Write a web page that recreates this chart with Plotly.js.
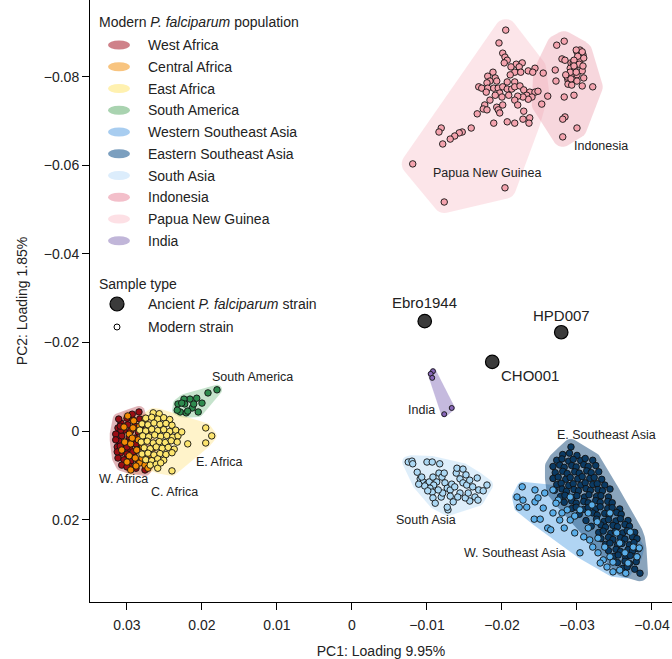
<!DOCTYPE html>
<html>
<head>
<meta charset="utf-8">
<script src="https://cdn.plot.ly/plotly-3.0.1.min.js"></script>
<style>
html,body{margin:0;padding:0;background:#fff;}
#chart{width:672px;height:659px;}
</style>
</head>
<body>
<div id="chart"></div>
<script>
// ---------------- DATA (PC1, PC2 loadings) ----------------
const populationNames = ['West Africa','Central Africa','East Africa','South America','Western Southeast Asia','Eastern Southeast Asia','South Asia','Indonesia','Papua New Guinea','India'];

const westAfricaX = [0.0284,0.0300,0.0292,0.0308,0.0299,0.0289,0.0312,0.0304,0.0295,0.0285,0.0315,0.0307,0.0297,0.0289,0.0311,0.0301,0.0292,0.0283,0.0313,0.0305,0.0296,0.0287,0.0309,0.0300,0.0291,0.0312,0.0304,0.0295,0.0285,0.0307,0.0297,0.0288,0.0276,0.0280,0.0277,0.0279,0.0283,0.0315,0.0313,0.0311,0.0293,0.0300,0.0308,0.0309,0.0300,0.0292,0.0309,0.0288];
const westAfricaY = [-0.0043,-0.0029,-0.0025,-0.0018,-0.0014,-0.0011,-0.0007,-0.0002,0.0000,0.0002,0.0007,0.0011,0.0014,0.0016,0.0023,0.0025,0.0027,0.0029,0.0036,0.0038,0.0041,0.0043,0.0050,0.0052,0.0054,0.0061,0.0065,0.0068,0.0070,0.0077,0.0079,0.0084,0.0088,-0.0014,0.0014,0.0056,-0.0027,0.0020,0.0047,-0.0027,-0.0038,0.0081,-0.0002,-0.0011,0.0036,0.0047,0.0034,0.0029];

const centralAfricaX = [0.0291,0.0297,0.0303,0.0307,0.0297,0.0287,0.0283,0.0276,0.0272,0.0292,0.0283,0.0280,0.0285,0.0295,0.0275,0.0279,0.0300,0.0269,0.0267,0.0289,0.0276,0.0299,0.0272,0.0288,0.0304,0.0293,0.0280,0.0265,0.0295];
const centralAfricaY = [-0.0023,0.0007,0.0025,0.0043,0.0056,0.0043,0.0072,0.0077,0.0084,-0.0007,-0.0011,0.0002,0.0020,0.0029,0.0020,0.0036,0.0070,0.0054,0.0070,0.0061,-0.0027,-0.0034,-0.0002,0.0079,-0.0009,0.0016,0.0061,0.0038,0.0088];

const eastAfricaX = [0.0265,0.0257, 0.0275,0.0267,0.0259,0.0251,0.0243, 0.0280,0.0272,0.0264,0.0256,0.0248,0.0240, 0.0283,0.0275,0.0267,0.0259,0.0251,0.0243,0.0235, 0.0279,0.0271,0.0263,0.0255,0.0247,0.0239,0.0232, 0.0281,0.0273,0.0265,0.0257,0.0249,0.0241,0.0233, 0.0277,0.0269,0.0261,0.0253,0.0245,0.0237, 0.0280,0.0272,0.0264,0.0256,0.0248,0.0240, 0.0275,0.0267,0.0259,0.0251, 0.0269,0.0261, 0.0227,0.0219,0.0195,0.0187,0.0195,0.0259,0.0255,0.0240];
const eastAfricaY = [-0.0041,-0.0039, -0.0029,-0.0031,-0.0027,-0.0030,-0.0026, -0.0016,-0.0014,-0.0018,-0.0015,-0.0017,-0.0013, -0.0002,0.0000,-0.0004,-0.0001,-0.0003,0.0001,-0.0002, 0.0011,0.0013,0.0009,0.0012,0.0010,0.0014,0.0011, 0.0025,0.0023,0.0027,0.0024,0.0026,0.0022,0.0025, 0.0038,0.0040,0.0036,0.0039,0.0037,0.0041, 0.0052,0.0050,0.0054,0.0051,0.0053,0.0049, 0.0065,0.0067,0.0063,0.0066, 0.0077,0.0075, 0.0002,0.0029,-0.0007,0.0011,0.0027,0.0084,0.0072,0.0090];

const southAmericaX = [0.0180,0.0192,0.0207,0.0216,0.0224,0.0232,0.0223,0.0213,0.0200,0.0229,0.0221,0.0219,0.0205,0.0227,0.0211,0.0233];
const southAmericaY = [-0.0093,-0.0086,-0.0074,-0.0072,-0.0072,-0.0061,-0.0061,-0.0052,-0.0063,-0.0043,-0.0041,-0.0045,-0.0043,-0.0063,-0.0061,-0.0047];

const westSEAsiaX = [-0.0227,-0.0228,-0.0223,-0.0233,-0.0244,-0.0248,-0.0255,-0.0243,-0.0251,-0.0261,-0.0265,-0.0268,-0.0277,-0.0283,-0.0280,-0.0287,-0.0291,-0.0297,-0.0304,-0.0309,-0.0315,-0.0321,-0.0328,-0.0335,-0.0340,-0.0348,-0.0357,-0.0365,-0.0368,-0.0375,-0.0380,-0.0383,-0.0364,-0.0344,-0.0331,-0.0348,-0.0268,-0.0275,-0.0291,-0.0304,-0.0315,-0.0327,-0.0344,-0.0353,-0.0328,-0.0220,-0.0257,-0.0272,-0.0297,-0.0317,-0.0357,-0.0337,-0.0371,-0.0320,-0.0244];
const westSEAsiaY = [0.0126,0.0156,0.0172,0.0172,0.0160,0.0151,0.0174,0.0199,0.0199,0.0219,0.0223,0.0185,0.0201,0.0219,0.0185,0.0178,0.0201,0.0230,0.0275,0.0239,0.0219,0.0262,0.0275,0.0291,0.0307,0.0318,0.0314,0.0321,0.0298,0.0262,0.0284,0.0264,0.0275,0.0284,0.0298,0.0296,0.0133,0.0156,0.0149,0.0178,0.0185,0.0205,0.0185,0.0230,0.0242,0.0149,0.0140,0.0163,0.0192,0.0246,0.0253,0.0262,0.0228,0.0167,0.0133];

const eastSEAsiaX = [-0.0292,
 -0.0281,-0.0290,-0.0300,
 -0.0273,-0.0280,-0.0289,-0.0295,-0.0305,-0.0311,-0.0321,
 -0.0268,-0.0277,-0.0283,-0.0293,-0.0299,-0.0309,-0.0315,-0.0325,
 -0.0271,-0.0281,-0.0287,-0.0297,-0.0303,-0.0313,-0.0319,-0.0329,
 -0.0268,-0.0275,-0.0285,-0.0291,-0.0301,-0.0307,-0.0317,-0.0323,-0.0333,
 -0.0273,-0.0279,-0.0289,-0.0295,-0.0305,-0.0311,-0.0321,-0.0327,-0.0337,
 -0.0270,-0.0280,-0.0286,-0.0296,-0.0302,-0.0312,-0.0318,-0.0328,-0.0334,-0.0344,
 -0.0278,-0.0284,-0.0294,-0.0300,-0.0310,-0.0316,-0.0326,-0.0332,-0.0342,
 -0.0283,-0.0293,-0.0299,-0.0309,-0.0315,-0.0325,-0.0331,-0.0341,-0.0347,
 -0.0293,-0.0299,-0.0309,-0.0315,-0.0325,-0.0331,-0.0341,-0.0347,-0.0357,
 -0.0303,-0.0321,-0.0327,-0.0337,-0.0343,-0.0353,-0.0359,
 -0.0312,-0.0326,-0.0336,-0.0342,-0.0352,-0.0358,-0.0368,
 -0.0319,-0.0332,-0.0338,-0.0348,-0.0354,-0.0364,-0.0370,
 -0.0329,-0.0335,-0.0345,-0.0351,-0.0361,-0.0367,-0.0377,
 -0.0332,-0.0342,-0.0348,-0.0358,-0.0364,-0.0374,-0.0380,
 -0.0338,-0.0344,-0.0354,-0.0360,-0.0370,-0.0376,
 -0.0342,-0.0352,-0.0358,-0.0368,-0.0374,-0.0382,
 -0.0349,-0.0355,-0.0365,-0.0371,-0.0380,
 -0.0354,-0.0364,-0.0370,-0.0379,
 -0.0361,-0.0367,-0.0377,
 -0.0384];
const eastSEAsiaY = [0.0036,
 0.0053,0.0050,0.0055,
 0.0066,0.0063,0.0068,0.0064,0.0067,0.0062,0.0066,
 0.0080,0.0077,0.0082,0.0078,0.0081,0.0076,0.0080,0.0078,
 0.0094,0.0091,0.0096,0.0092,0.0095,0.0090,0.0094,0.0092,
 0.0107,0.0104,0.0109,0.0105,0.0108,0.0103,0.0107,0.0105,0.0109,
 0.0121,0.0118,0.0123,0.0119,0.0122,0.0117,0.0121,0.0119,0.0122,
 0.0134,0.0131,0.0136,0.0132,0.0135,0.0130,0.0134,0.0132,0.0135,0.0131,
 0.0148,0.0145,0.0150,0.0146,0.0149,0.0144,0.0148,0.0146,0.0149,
 0.0161,0.0158,0.0163,0.0159,0.0162,0.0157,0.0161,0.0159,0.0162,
 0.0175,0.0172,0.0177,0.0173,0.0176,0.0171,0.0175,0.0173,0.0176,
 0.0188,0.0185,0.0190,0.0186,0.0189,0.0184,0.0188,
 0.0202,0.0199,0.0204,0.0200,0.0203,0.0198,0.0202,
 0.0215,0.0212,0.0217,0.0213,0.0216,0.0211,0.0215,
 0.0229,0.0226,0.0231,0.0227,0.0230,0.0225,0.0229,
 0.0243,0.0240,0.0245,0.0241,0.0244,0.0239,0.0243,
 0.0256,0.0253,0.0258,0.0254,0.0257,0.0252,
 0.0270,0.0267,0.0272,0.0268,0.0271,0.0266,
 0.0283,0.0280,0.0285,0.0281,0.0284,
 0.0297,0.0294,0.0299,0.0295,
 0.0310,0.0307,0.0312,
 0.0321];

const southAsiaX = [-0.0075,-0.0080,-0.0081,-0.0100,-0.0107,-0.0087,-0.0091,-0.0095,-0.0100,-0.0103,-0.0108,-0.0117,-0.0116,-0.0120,-0.0123,-0.0113,-0.0109,-0.0104,-0.0097,-0.0107,-0.0108,-0.0111,-0.0119,-0.0124,-0.0127,-0.0131,-0.0133,-0.0137,-0.0139,-0.0140,-0.0148,-0.0152,-0.0144,-0.0148,-0.0153,-0.0157,-0.0161,-0.0167,-0.0169,-0.0164,-0.0157,-0.0168,-0.0180,-0.0175,-0.0131,-0.0144,-0.0128,-0.0127,-0.0121,-0.0141,-0.0151,-0.0135,-0.0155,-0.0089,-0.0101,-0.0115,-0.0093];
const southAsiaY = [0.0070,0.0068,0.0074,0.0070,0.0070,0.0093,0.0108,0.0115,0.0120,0.0115,0.0104,0.0074,0.0095,0.0104,0.0095,0.0115,0.0122,0.0129,0.0124,0.0138,0.0151,0.0163,0.0149,0.0117,0.0129,0.0133,0.0120,0.0126,0.0095,0.0084,0.0086,0.0099,0.0108,0.0117,0.0122,0.0111,0.0126,0.0106,0.0133,0.0149,0.0158,0.0156,0.0122,0.0135,0.0147,0.0140,0.0178,0.0172,0.0140,0.0149,0.0151,0.0160,0.0140,0.0120,0.0135,0.0133,0.0104];

const indonesiaX = [-0.0273,-0.0283,-0.0300,-0.0304,-0.0308,-0.0304,-0.0309,-0.0280,-0.0292,-0.0295,-0.0291,-0.0297,-0.0293,-0.0271,-0.0307,-0.0288,-0.0295,-0.0300,-0.0272,-0.0288,-0.0293,-0.0309,-0.0307,-0.0321,-0.0296,-0.0283,-0.0253,-0.0284,-0.0281,-0.0300,-0.0281,-0.0255,-0.0287,-0.0292,-0.0299,-0.0307,-0.0301,-0.0296,-0.0303,-0.0308,-0.0296,-0.0291,-0.0299,-0.0292,-0.0300,-0.0284,-0.0285,-0.0261];
const indonesiaY = [-0.0871,-0.0880,-0.0856,-0.0860,-0.0849,-0.0837,-0.0842,-0.0840,-0.0831,-0.0831,-0.0819,-0.0819,-0.0808,-0.0815,-0.0813,-0.0792,-0.0797,-0.0804,-0.0790,-0.0783,-0.0781,-0.0797,-0.0779,-0.0777,-0.0758,-0.0754,-0.0738,-0.0709,-0.0704,-0.0684,-0.0664,-0.0808,-0.0799,-0.0804,-0.0860,-0.0856,-0.0846,-0.0837,-0.0828,-0.0824,-0.0824,-0.0810,-0.0810,-0.0795,-0.0790,-0.0837,-0.0804,-0.0756];

const papuaX = [-0.0205,-0.0196,-0.0201,-0.0204,-0.0207,-0.0203,-0.0219,-0.0227,-0.0223,-0.0212,-0.0217,-0.0225,-0.0235,-0.0244,-0.0241,-0.0188,-0.0181,-0.0191,-0.0184,-0.0193,-0.0207,-0.0217,-0.0180,-0.0169,-0.0173,-0.0181,-0.0189,-0.0195,-0.0201,-0.0207,-0.0213,-0.0217,-0.0224,-0.0229,-0.0237,-0.0244,-0.0248,-0.0233,-0.0240,-0.0235,-0.0228,-0.0221,-0.0197,-0.0191,-0.0184,-0.0177,-0.0175,-0.0180,-0.0193,-0.0195,-0.0201,-0.0217,-0.0221,-0.0229,-0.0197,-0.0207,-0.0217,-0.0228,-0.0237,-0.0236,-0.0189,-0.0167,-0.0159,-0.0147,-0.0143,-0.0137,-0.0131,-0.0121,-0.0119,-0.0116,-0.0081,-0.0123,-0.0204,-0.0211,-0.0200,-0.0209,-0.0179];
const papuaY = [-0.0905,-0.0876,-0.0853,-0.0844,-0.0837,-0.0831,-0.0828,-0.0831,-0.0822,-0.0822,-0.0810,-0.0810,-0.0813,-0.0819,-0.0810,-0.0810,-0.0801,-0.0797,-0.0790,-0.0790,-0.0788,-0.0788,-0.0786,-0.0777,-0.0774,-0.0774,-0.0774,-0.0774,-0.0777,-0.0772,-0.0772,-0.0777,-0.0779,-0.0770,-0.0765,-0.0765,-0.0767,-0.0758,-0.0754,-0.0749,-0.0754,-0.0756,-0.0763,-0.0758,-0.0747,-0.0736,-0.0727,-0.0725,-0.0731,-0.0725,-0.0736,-0.0747,-0.0736,-0.0722,-0.0718,-0.0698,-0.0695,-0.0704,-0.0707,-0.0695,-0.0695,-0.0716,-0.0684,-0.0675,-0.0673,-0.0666,-0.0659,-0.0648,-0.0684,-0.0675,-0.0603,-0.0517,-0.0549,-0.0804,-0.0754,-0.0758,-0.0765];

const indiaX = [-0.0108,-0.0105,-0.0107,-0.0133,-0.0123];
const indiaY = [-0.0135,-0.0129,-0.0120,-0.0052,-0.0038];

const ancientNames = ['Ebro1944','HPD007','CHO001'];
const ancientX = [-0.0097,-0.0279,-0.0187];
const ancientY = [-0.0248,-0.0223,-0.0156];

const regionLabels = ['South America','E. Africa','W. Africa','C. Africa','India','South Asia','E. Southeast Asia','W. Southeast Asia','Papua New Guinea','Indonesia'];

// ---------------- STYLE ----------------
const FONT = 'Liberation Sans, Arial, Helvetica, sans-serif';
const groups = [
  {name:'Papua New Guinea', x:papuaX, y:papuaY, marker:'#f4a3ae', hull:'rgba(244,160,176,0.28)', pad:11, swatch:'#fde0e5'},
  {name:'Indonesia', x:indonesiaX, y:indonesiaY, marker:'#f4a3ae', hull:'rgba(237,160,174,0.42)', pad:10, swatch:'#f3bfca'},
  {name:'India', x:indiaX, y:indiaY, marker:'#8766b8', hull:'rgba(159,140,200,0.60)', pad:3, swatch:'#c1b6d9', size:5},
  {name:'South Asia', x:southAsiaX, y:southAsiaY, marker:'#acd8f4', hull:'rgba(169,211,242,0.38)', pad:6, swatch:'#dcedfc'},
  {name:'Western Southeast Asia', x:westSEAsiaX, y:westSEAsiaY, marker:'#5aaee9', hull:'rgba(90,165,230,0.48)', pad:5, swatch:'#a8cdf0'},
  {name:'Eastern Southeast Asia', x:eastSEAsiaX, y:eastSEAsiaY, marker:'#0b3a63', hull:'rgba(42,90,133,0.55)', pad:8, swatch:'#7b9fbf'},
  {name:'South America', x:southAmericaX, y:southAmericaY, marker:'#2e8b4f', hull:'rgba(127,192,143,0.45)', pad:5, swatch:'#a9d3b0'},
  {name:'East Africa', x:eastAfricaX, y:eastAfricaY, marker:'#fde56e', hull:'rgba(255,228,138,0.45)', pad:5, swatch:'#fff1b0'},
  {name:'Central Africa', x:centralAfricaX, y:centralAfricaY, marker:'#f28a05', hull:'rgba(245,176,96,0.45)', pad:5, swatch:'#f8c47f'},
  {name:'West Africa', x:westAfricaX, y:westAfricaY, marker:'#9b0d14', hull:'rgba(201,120,128,0.55)', pad:6, swatch:'#cf8189'}
];
const byName = {}; groups.forEach(g => byName[g.name] = g);

// approximate screen pixels per data unit (used only to round the hull outline)
const SX = 7500, SY = 4430;
function roundedHullPath(xs, ys, pad) {
  const pts = xs.map((x,i)=>[x*SX, ys[i]*SY]).sort((a,b)=>a[0]-b[0]||a[1]-b[1]);
  const cross=(o,a,b)=>(a[0]-o[0])*(b[1]-o[1])-(a[1]-o[1])*(b[0]-o[0]);
  const lower=[]; for(const p of pts){while(lower.length>=2&&cross(lower[lower.length-2],lower[lower.length-1],p)<=0)lower.pop();lower.push(p);}
  const upper=[]; for(let i=pts.length-1;i>=0;i--){const p=pts[i];while(upper.length>=2&&cross(upper[upper.length-2],upper[upper.length-1],p)<=0)upper.pop();upper.push(p);}
  upper.pop(); lower.pop();
  const h = lower.concat(upper);
  const n = h.length, out = [];
  for (let i=0;i<n;i++){
    const p0 = h[(i-1+n)%n], p1 = h[i], p2 = h[(i+1)%n];
    let a1 = Math.atan2(-(p1[0]-p0[0]), (p1[1]-p0[1]));
    let a2 = Math.atan2(-(p2[0]-p1[0]), (p2[1]-p1[1]));
    while (a2 < a1) a2 += 2*Math.PI;
    const steps = Math.max(1, Math.ceil((a2-a1)/(Math.PI/14)));
    for (let k=0;k<=steps;k++){
      const a = a1 + (a2-a1)*k/steps;
      out.push([(p1[0]+pad*Math.cos(a))/SX, (p1[1]+pad*Math.sin(a))/SY]);
    }
  }
  return 'M' + out.map(p => p[0].toFixed(6) + ',' + p[1].toFixed(6)).join('L') + 'Z';
}

const shapes = [];
const hullOrder = ['Papua New Guinea','Indonesia','Western Southeast Asia','Eastern Southeast Asia','South Asia','India','South America','East Africa','Central Africa','West Africa'];
hullOrder.forEach(n => {
  const g = byName[n];
  shapes.push({type:'path', xref:'x', yref:'y', layer:'below', path:roundedHullPath(g.x, g.y, g.pad),
    fillcolor:g.hull, line:{width:0}});
});

const traces = [];
const pointOrder = ['Papua New Guinea','Indonesia','India','South Asia','Eastern Southeast Asia','Western Southeast Asia','South America','West Africa','Central Africa','East Africa'];
pointOrder.forEach(n => {
  const g = byName[n];
  traces.push({type:'scatter', mode:'markers', x:g.x, y:g.y, name:n, showlegend:false,
    marker:{size:g.size||6.5, color:g.marker, line:{color:'#111', width:0.9}}});
});
traces.push({type:'scatter', mode:'markers', x:ancientX, y:ancientY, text:ancientNames, showlegend:false,
  marker:{size:13.5, color:'#3b3b3b', line:{color:'#000', width:1.2}}});

// ---------------- LAYOUT ----------------
const L = 90, T = 0, W = 582, H = 602;
const px = v => (v - L) / W;
const py = v => 1 - (v - T) / H;

const annotations = [];
const txt = (text, x, y, size) => ({text, x, y, xref:'paper', yref:'paper', xanchor:'left', yanchor:'middle', showarrow:false, font:{family:FONT, size:size||14, color:'#222'}});

annotations.push(txt('Modern <i>P. falciparum</i> population', px(97), py(22), 14));
populationNames.forEach((n,i) => {
  const yy = py(45 + i*21.75);
  annotations.push(txt(n, px(146), yy, 14));
  shapes.push({type:'circle', xref:'paper', yref:'paper', xsizemode:'pixel', ysizemode:'pixel',
    xanchor:px(119), yanchor:yy, x0:-11, x1:11, y0:-4.5, y1:4.5, fillcolor:byName[n].swatch, line:{width:0}});
});
annotations.push(txt('Sample type', px(97), py(284), 14));
annotations.push(txt('Ancient <i>P. falciparum</i> strain', px(146), py(304), 14));
annotations.push(txt('Modern strain', px(146), py(327), 14));
shapes.push({type:'circle', xref:'paper', yref:'paper', xsizemode:'pixel', ysizemode:'pixel',
  xanchor:px(117), yanchor:py(304), x0:-7, x1:7, y0:-7, y1:7, fillcolor:'#3b3b3b', line:{color:'#000', width:1.2}});
shapes.push({type:'circle', xref:'paper', yref:'paper', xsizemode:'pixel', ysizemode:'pixel',
  xanchor:px(117), yanchor:py(327), x0:-3, x1:3, y0:-3, y1:3, fillcolor:'#ffffff', line:{color:'#000', width:1}});

const regionPos = [[0.0133,-0.0122],[0.0177,0.0070],[0.0305,0.0108],[0.0237,0.0138],[-0.0093,-0.0047],[-0.0099,0.0201],[-0.0340,0.0009],[-0.0217,0.0275],[-0.0180,-0.0582],[-0.0332,-0.0643]];
regionLabels.forEach((t,i) => annotations.push({text:t, x:regionPos[i][0], y:regionPos[i][1], xref:'x', yref:'y',
  xanchor:'center', yanchor:'middle', showarrow:false, font:{family:FONT, size:12.5, color:'#222'}}));
const ancientShift = [[0,19],[0,17],[38,-14]];
ancientNames.forEach((t,i) => annotations.push({text:t, x:ancientX[i], y:ancientY[i], xref:'x', yref:'y',
  xshift:ancientShift[i][0], yshift:ancientShift[i][1], xanchor:'center', yanchor:'middle', showarrow:false,
  font:{family:FONT, size:15, color:'#222'}}));

const layout = {
  width:672, height:659,
  margin:{l:L, r:672-L-W, t:T, b:659-T-H},
  paper_bgcolor:'#fff', plot_bgcolor:'#fff',
  font:{family:FONT, size:14, color:'#222'},
  showlegend:false,
  xaxis:{range:[0.03493,-0.04267], dtick:0.01, tick0:0, showgrid:false, zeroline:false,
    showline:true, linecolor:'#000', linewidth:1, ticks:'outside', ticklen:7, tickcolor:'#000', tickwidth:1,
    ticklabelstandoff:3,
    tickfont:{family:FONT, size:14, color:'#222'},
    title:{text:'PC1: Loading 9.95%', font:{family:FONT, size:14, color:'#222'}, standoff:17}, automargin:false},
  yaxis:{range:[0.0386,-0.0973], dtick:0.02, tick0:0, showgrid:false, zeroline:false,
    showline:true, linecolor:'#000', linewidth:1, ticks:'outside', ticklen:7, tickcolor:'#000', tickwidth:1,
    tickfont:{family:FONT, size:14, color:'#222'},
    title:{text:'PC2: Loading 1.85%', font:{family:FONT, size:14, color:'#222'}, standoff:12}, automargin:false},
  annotations, shapes
};

Plotly.newPlot('chart', traces, layout, {displayModeBar:false, staticPlot:true});
</script>
</body>
</html>
